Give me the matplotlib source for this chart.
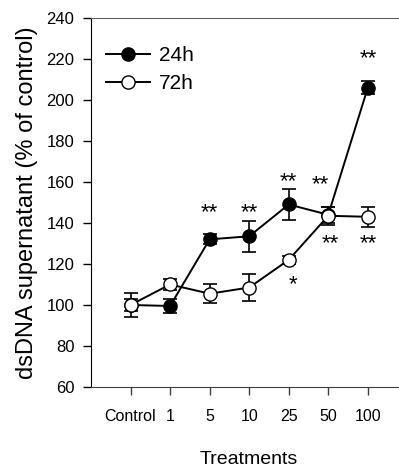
import numpy as np
import matplotlib
matplotlib.use("Agg")
import matplotlib.pyplot as plt
from matplotlib.lines import Line2D

plt.rcParams['font.family'] = ['Liberation Sans', 'DejaVu Sans']

treatments = ["Control", "1", "5", "10", "25", "50", "100"]
h24 = [100, 99.5, 132, 133.5, 149, 144, 206]
h24_err = [3, 3.5, 2.5, 7.5, 7.7, 4, 3.3]
h72 = [100, 110, 105.5, 108.5, 122, 143.5, 143]
h72_err = [6, 2.5, 4.5, 6.5, 2, 4.5, 5]

# significance marks: (x index, y value, text)
stars = [(2, 145, "**"), (3, 145, "**"), (4, 160, "**"), (4.8, 158.5, "**"),
         (6, 220, "**"), (5.05, 130, "**"), (6, 130, "**"), (4.12, 110, "*")]

x = np.arange(len(treatments))

fig = plt.figure(figsize=(3.99, 4.75), dpi=100)
ax = fig.add_axes([0.228, 0.1853, 0.793, 0.777])

ax.errorbar(x, h24, yerr=h24_err, color="black", marker="o", markersize=9.5,
            markerfacecolor="black", markeredgecolor="black", lw=1.4,
            capsize=5, capthick=1.2, elinewidth=1.2, zorder=3)
ax.errorbar(x, h72, yerr=h72_err, color="black", marker="o", markersize=9.5,
            markerfacecolor="white", markeredgecolor="black", lw=1.4,
            capsize=5, capthick=1.2, elinewidth=1.2, zorder=4)

for sx, sy, s in stars:
    ax.text(sx, sy, s, ha="center", va="center", fontsize=16)

ax.set_xlim(-1, 7)
ax.set_ylim(60, 240)
ax.set_yticks(np.arange(60, 241, 20))
ax.set_xticks(x)
ax.set_xticklabels(treatments)
ax.tick_params(axis="both", direction="out", length=6, width=1)
ax.tick_params(axis="y", labelsize=12, pad=6)
ax.tick_params(axis="x", pad=10, color="#404040", labelsize=11.5)
ax.spines["right"].set_visible(False)
ax.spines["top"].set_color("#606060")
ax.spines["bottom"].set_color("#404040")

ax.set_ylabel("dsDNA supernatant (% of control)", fontsize=17, labelpad=6)
ax.set_xlabel("Treatments", fontsize=14, labelpad=19)

handles = [Line2D([], [], color="black", lw=1.4, marker="o", markersize=9.5,
                  markerfacecolor="black", markeredgecolor="black"),
           Line2D([], [], color="black", lw=1.4, marker="o", markersize=9.5,
                  markerfacecolor="white", markeredgecolor="black")]
ax.legend(handles, ["24h", "72h"], loc="upper left", bbox_to_anchor=(-0.012, 0.975),
          frameon=False, fontsize=15, handlelength=2.1, handletextpad=0.45,
          labelspacing=0.45)

fig.savefig("out.png", dpi=100)
